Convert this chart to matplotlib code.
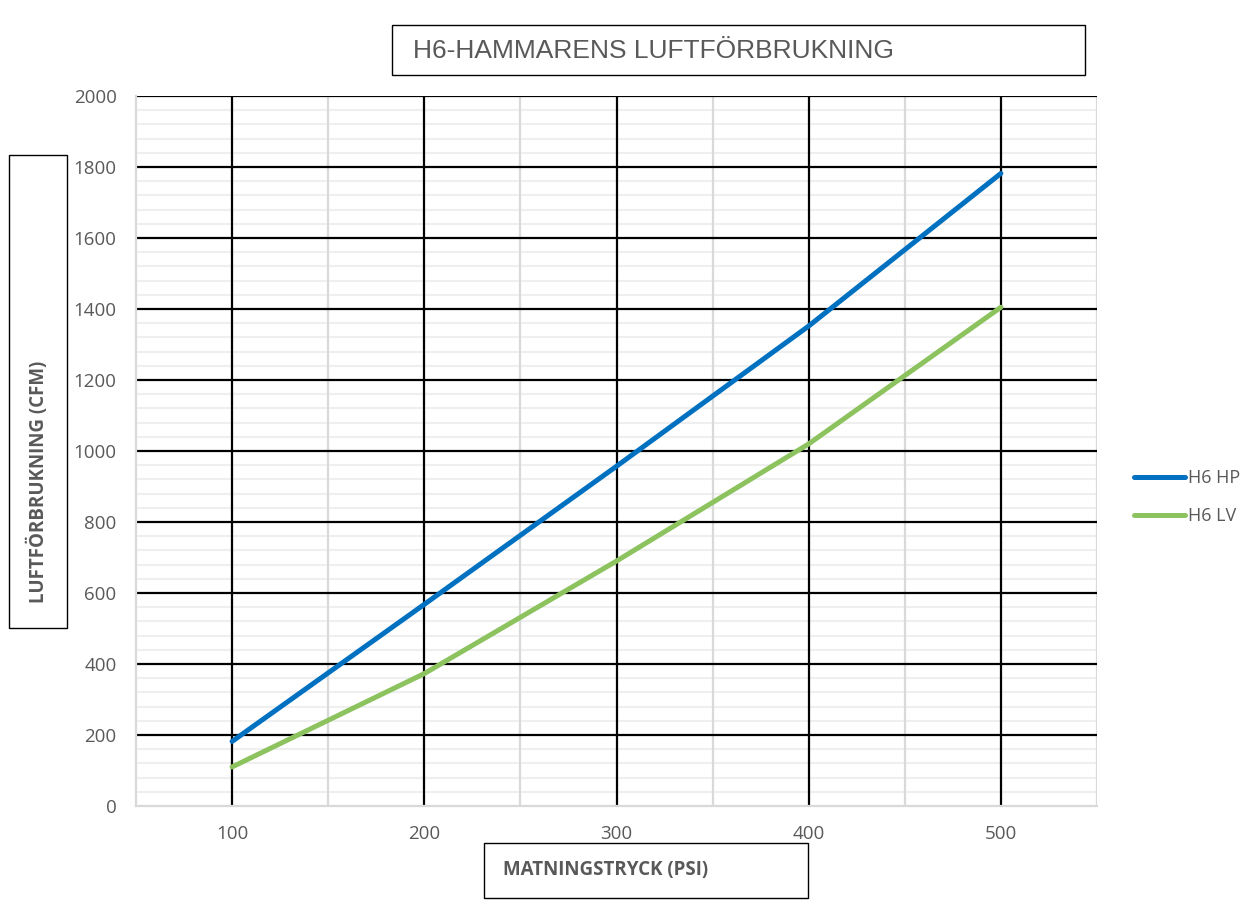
import matplotlib.pyplot as plt
from matplotlib.patches import Rectangle

# supply pressure (psi) and air consumption (cfm)
pressure = [100, 200, 300, 400, 500]
hp_cfm = [182, 568, 957, 1352, 1782]
lv_cfm = [110, 373, 690, 1020, 1405]
series_names = ["H6 HP", "H6 LV"]

title = "H6-HAMMARENS LUFTFÖRBRUKNING"
xlabel = "MATNINGSTRYCK (PSI)"
ylabel = "LUFTFÖRBRUKNING (CFM)"

grey_text = "#595959"

fig = plt.figure(figsize=(12.53, 9.08), dpi=100)
ax = fig.add_axes([136 / 1253, 1 - 806 / 908, (1097 - 136) / 1253, (806 - 96) / 908])

ax.set_xlim(50, 550)
ax.set_ylim(0, 2000)

# grid: light minor rows, black major rows/cols, grey half-step cols
for y in range(40, 2000, 40):
    if y % 200:
        ax.axhline(y, color="#efefef", lw=1.5, zorder=0)
for x in [150, 250, 350, 450, 550]:
    ax.axvline(x, color="#d9d9d9", lw=1.6, zorder=1)
for y in range(200, 2001, 200):
    ax.axhline(y, color="black", lw=1.6, zorder=2)
for x in pressure:
    ax.axvline(x, color="black", lw=1.6, zorder=2)

ax.plot(pressure, hp_cfm, color="#0070C0", lw=3.6, solid_capstyle="round", label=series_names[0], zorder=3)
ax.plot(pressure, lv_cfm, color="#8DC35F", lw=3.6, solid_capstyle="round", label=series_names[1], zorder=3)

for s in ["top", "right"]:
    ax.spines[s].set_visible(False)
ax.spines["left"].set_color("#d9d9d9")
ax.spines["bottom"].set_color("#d9d9d9")
ax.spines["left"].set_linewidth(1.6)
ax.spines["bottom"].set_linewidth(1.6)

ax.set_xticks(pressure)
ax.set_yticks(range(0, 2001, 200))
ax.tick_params(length=0, labelsize=13.5, labelcolor=grey_text, pad=14)
for lbl in ax.get_xticklabels() + ax.get_yticklabels():
    lbl.set_family("Open Sans")

leg = fig.legend(loc="upper left", bbox_to_anchor=(1118 / 1253, 1 - 453 / 908), frameon=False,
                 handlelength=2.8, labelspacing=1.1, handletextpad=0.15,
                 prop={"family": "Open Sans", "size": 13})
for t in leg.get_texts():
    t.set_color(grey_text)

# boxed title and axis labels
fig.patches.append(Rectangle((392 / 1253, 1 - 75 / 908), (1085 - 392) / 1253, 50 / 908,
                             transform=fig.transFigure, fill=False, ec="black", lw=1))
fig.text(413 / 1253, 1 - 51 / 908, title, fontsize=19, color=grey_text, family="Liberation Sans",
         va="center", ha="left")

fig.patches.append(Rectangle((9 / 1253, 1 - 628 / 908), 58 / 1253, (628 - 155) / 908,
                             transform=fig.transFigure, fill=False, ec="black", lw=1))
fig.text(38 / 1253, 1 - 482 / 908, ylabel, fontsize=13.5, color=grey_text, family="Open Sans",
         weight="bold", rotation=90, va="center", ha="center")

fig.patches.append(Rectangle((484 / 1253, 1 - 898 / 908), (808 - 484) / 1253, 55 / 908,
                             transform=fig.transFigure, fill=False, ec="black", lw=1))
fig.text(503 / 1253, 1 - 870 / 908, xlabel, fontsize=13.5, color=grey_text, family="Open Sans",
         weight="bold", va="center", ha="left")

plt.savefig("out.png", dpi=100)
